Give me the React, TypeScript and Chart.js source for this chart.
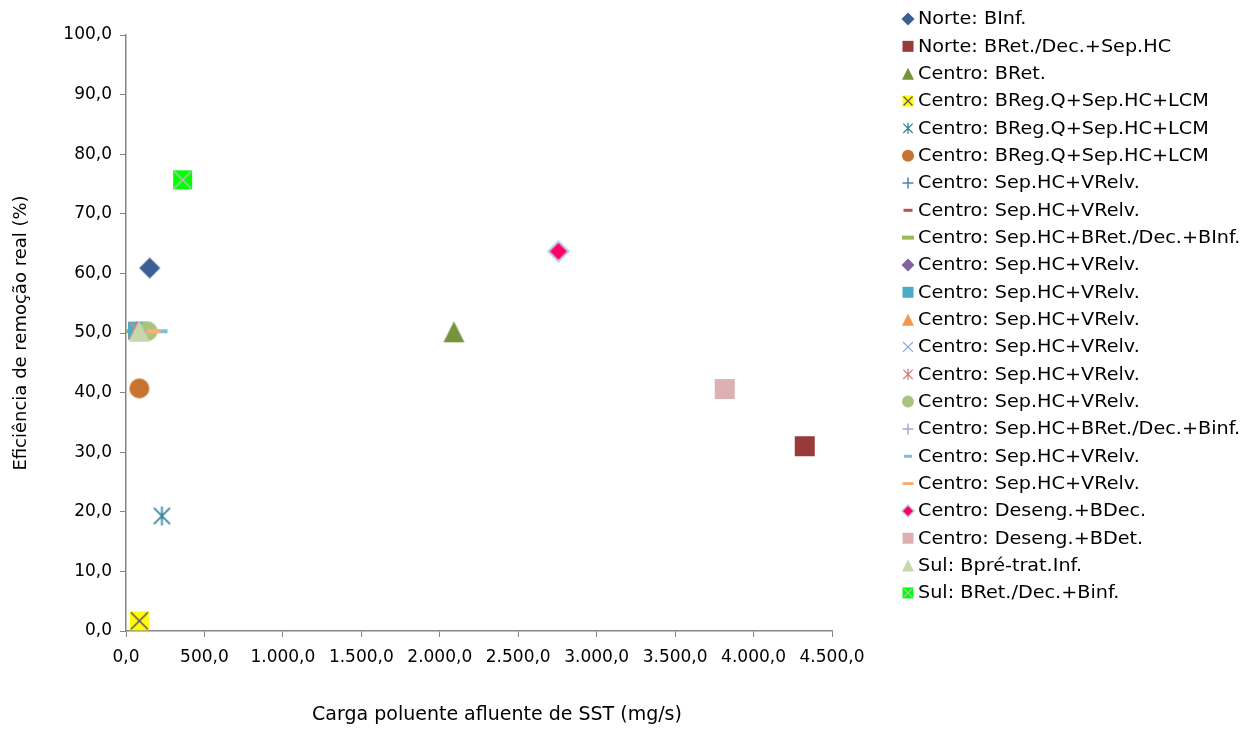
import React, { useEffect, useRef } from 'react';
import { Chart, registerables } from 'chart.js';

Chart.register(...registerables);

// ---------- data ----------
const seriesNames: string[] = [
  'Norte: BInf.',
  'Norte: BRet./Dec.+Sep.HC',
  'Centro: BRet.',
  'Centro: BReg.Q+Sep.HC+LCM',
  'Centro: BReg.Q+Sep.HC+LCM',
  'Centro: BReg.Q+Sep.HC+LCM',
  'Centro: Sep.HC+VRelv.',
  'Centro: Sep.HC+VRelv.',
  'Centro: Sep.HC+BRet./Dec.+BInf.',
  'Centro: Sep.HC+VRelv.',
  'Centro: Sep.HC+VRelv.',
  'Centro: Sep.HC+VRelv.',
  'Centro: Sep.HC+VRelv.',
  'Centro: Sep.HC+VRelv.',
  'Centro: Sep.HC+VRelv.',
  'Centro: Sep.HC+BRet./Dec.+Binf.',
  'Centro: Sep.HC+VRelv.',
  'Centro: Sep.HC+VRelv.',
  'Centro: Deseng.+BDec.',
  'Centro: Deseng.+BDet.',
  'Sul: Bpré-trat.Inf.',
  'Sul: BRet./Dec.+Binf.',
];

// Carga poluente afluente de SST (mg/s)
const xValues: number[] = [
  151, 4326, 2090, 85, 229, 85, 80, 80, 30, 70, 70, 75,
  70, 65, 137, 90, 220, 175, 2756, 3816, 84, 361,
];

// Eficiência de remoção real (%)
const yValues: number[] = [
  60.9, 31.0, 50.2, 1.7, 19.3, 40.7, 50.4, 50.4, 50.3, 50.4, 50.4, 50.4,
  50.5, 50.5, 50.3, 50.4, 50.3, 50.3, 63.7, 40.6, 50.3, 75.7,
];

const xMin = 0;
const xMax = 4500;
const xStep = 500;
const yMin = 0;
const yMax = 100;
const yStep = 10;

const xTitle = 'Carga poluente afluente de SST (mg/s)';
const yTitle = 'Eficiência de remoção real (%)';

// ---------- styles ----------
const markerTypes: string[] = [
  'diamond', 'square', 'triangle', 'xbox', 'asterisk', 'circle',
  'plus', 'dash', 'dash', 'diamond', 'square', 'triangle',
  'x', 'asterisk', 'circle', 'plus', 'dash', 'dash',
  'diamond', 'square', 'triangle', 'xbox',
];

const fillColors: string[] = [
  '#3B6096', '#973A38', '#77933C', '#FFFF00', '#31859C', '#C77430',
  '#4F81BD', '#C0504D', '#9BBB59', '#8064A2', '#4BACC6', '#F79646',
  '#8EA9DB', '#D67F7D', '#A9C47F', '#B3A2C7', '#7EC1D6', '#F9AE77',
  '#FF0066', '#DDB1B1', '#C6D8AC', '#00FF00',
];

const lineColors: (string | null)[] = [
  null, null, null, '#604A7B', null, null,
  null, null, null, null, null, null,
  null, null, null, null, null, null,
  '#B9CDE5', null, null, '#BFBFBF',
];

const chartSizes: number[] = [
  21, 20, 21, 19, 19, 20,
  14, 14, 14, 18, 18, 18,
  16, 17, 20, 14, 14, 14,
  20, 20, 21, 19,
];

const legendSizes: number[] = [
  13, 11, 12, 11, 11, 12,
  11, 9, 12, 13, 11, 12,
  11, 11, 12, 11, 8, 11,
  12, 11, 12, 11,
];

const FONT = '"DejaVu Sans", "Liberation Sans", Arial, sans-serif';
const TICK_SIZE = 17;
const LEGEND_SIZE = 17;
const LEGEND_STRETCH = 1.13;
const X_TITLE_SIZE = 19;
const axisColor = '#868686';

function drawMarker(
  ctx: CanvasRenderingContext2D,
  type: string,
  cx: number,
  cy: number,
  s: number,
  fill: string,
  line: string | null,
) {
  const h = s / 2;
  ctx.save();
  ctx.fillStyle = fill;
  ctx.strokeStyle = fill;
  ctx.lineCap = 'butt';
  switch (type) {
    case 'diamond': {
      ctx.beginPath();
      ctx.moveTo(cx, cy - h);
      ctx.lineTo(cx + h, cy);
      ctx.lineTo(cx, cy + h);
      ctx.lineTo(cx - h, cy);
      ctx.closePath();
      ctx.fill();
      if (line) {
        ctx.strokeStyle = line;
        ctx.lineWidth = Math.max(1.5, s / 9);
        ctx.stroke();
      }
      break;
    }
    case 'square': {
      ctx.fillRect(cx - h, cy - h, s, s);
      break;
    }
    case 'triangle': {
      ctx.beginPath();
      ctx.moveTo(cx, cy - h);
      ctx.lineTo(cx + h, cy + h);
      ctx.lineTo(cx - h, cy + h);
      ctx.closePath();
      ctx.fill();
      break;
    }
    case 'xbox': {
      ctx.fillRect(cx - h, cy - h, s, s);
      ctx.strokeStyle = line || '#000';
      ctx.lineWidth = Math.max(1.2, s / 12);
      const k = h - 1;
      ctx.beginPath();
      ctx.moveTo(cx - k, cy - k);
      ctx.lineTo(cx + k, cy + k);
      ctx.moveTo(cx + k, cy - k);
      ctx.lineTo(cx - k, cy + k);
      ctx.stroke();
      break;
    }
    case 'asterisk': {
      ctx.lineWidth = Math.max(1.3, s / 11);
      const k = h * 0.85;
      ctx.beginPath();
      ctx.moveTo(cx - k, cy - k);
      ctx.lineTo(cx + k, cy + k);
      ctx.moveTo(cx + k, cy - k);
      ctx.lineTo(cx - k, cy + k);
      ctx.moveTo(cx, cy - h);
      ctx.lineTo(cx, cy + h);
      ctx.stroke();
      break;
    }
    case 'x': {
      ctx.lineWidth = Math.max(1.3, s / 11);
      const k = h * 0.9;
      ctx.beginPath();
      ctx.moveTo(cx - k, cy - k);
      ctx.lineTo(cx + k, cy + k);
      ctx.moveTo(cx + k, cy - k);
      ctx.lineTo(cx - k, cy + k);
      ctx.stroke();
      break;
    }
    case 'circle': {
      ctx.beginPath();
      ctx.arc(cx, cy, h, 0, Math.PI * 2);
      ctx.fill();
      break;
    }
    case 'plus': {
      ctx.lineWidth = Math.max(1.5, s / 8);
      ctx.beginPath();
      ctx.moveTo(cx - h, cy);
      ctx.lineTo(cx + h, cy);
      ctx.moveTo(cx, cy - h);
      ctx.lineTo(cx, cy + h);
      ctx.stroke();
      break;
    }
    case 'dash': {
      const t = Math.max(3, Math.round(s * 0.3));
      ctx.fillRect(cx - h, cy - t / 2, s, t);
      break;
    }
    default:
      break;
  }
  ctx.restore();
}

function makeMarkerImage(type: string, s: number, fill: string, line: string | null) {
  const c = document.createElement('canvas');
  const dim = Math.ceil(s + 6);
  c.width = dim;
  c.height = dim;
  const ctx = c.getContext('2d') as CanvasRenderingContext2D;
  drawMarker(ctx, type, dim / 2, dim / 2, s, fill, line);
  return c;
}

function formatPt(v: number): string {
  const [intPart, decPart] = Math.abs(v).toFixed(1).split('.');
  const grouped = intPart.replace(/\B(?=(\d{3})+(?!\d))/g, '.');
  return (v < 0 ? '-' : '') + grouped + ',' + decPart;
}

// legend / title layout
const legendMarkerX = 908;
const legendTextX = 918;
const legendTop = 19;
const legendStep = 27.33;
const xTitleCenterX = 497;
const xTitleCenterY = 715;

const sideLegendPlugin = {
  id: 'sideLegend',
  afterDraw(chart: any) {
    const ctx: CanvasRenderingContext2D = chart.ctx;
    ctx.save();
    seriesNames.forEach((name, i) => {
      const y = legendTop + i * legendStep;
      drawMarker(ctx, markerTypes[i], legendMarkerX, y, legendSizes[i], fillColors[i], lineColors[i]);
      ctx.save();
      ctx.translate(legendTextX, y + 1);
      ctx.scale(LEGEND_STRETCH, 1);
      ctx.font = `${LEGEND_SIZE}px ${FONT}`;
      ctx.fillStyle = '#000000';
      ctx.textBaseline = 'middle';
      ctx.textAlign = 'left';
      ctx.fillText(name, 0, 0);
      ctx.restore();
    });
    // x-axis title (offset to the right as in the original)
    ctx.font = `${X_TITLE_SIZE}px ${FONT}`;
    ctx.fillStyle = '#000000';
    ctx.textBaseline = 'middle';
    ctx.textAlign = 'center';
    ctx.fillText(xTitle, xTitleCenterX, xTitleCenterY);
    ctx.restore();
  },
};

export default function App() {
  const canvasRef = useRef<HTMLCanvasElement | null>(null);

  useEffect(() => {
    const canvas = canvasRef.current;
    if (!canvas) return;

    const datasets = seriesNames.map((name, i) => ({
      label: name,
      data: [{ x: xValues[i], y: yValues[i] }],
      pointStyle: makeMarkerImage(markerTypes[i], chartSizes[i], fillColors[i], lineColors[i]) as any,
      backgroundColor: fillColors[i],
      borderColor: fillColors[i],
      showLine: false,
      order: 100 - i,
    }));

    const chart = new Chart(canvas, {
      type: 'scatter',
      data: { datasets },
      plugins: [sideLegendPlugin],
      options: {
        animation: false,
        responsive: false,
        maintainAspectRatio: false,
        devicePixelRatio: 1,
        layout: { padding: { top: 35, right: 421, bottom: 0, left: 0 } },
        plugins: {
          legend: { display: false },
          tooltip: { enabled: false },
        },
        scales: {
          x: {
            type: 'linear',
            min: xMin,
            max: xMax,
            afterFit: (scale: any) => {
              scale.height = 729 - 631;
            },
            ticks: {
              stepSize: xStep,
              color: '#000000',
              font: { family: FONT, size: TICK_SIZE },
              padding: 10,
              maxRotation: 0,
              autoSkip: false,
              callback: (v: any) => formatPt(Number(v)),
            },
            grid: {
              display: true,
              drawOnChartArea: false,
              drawTicks: true,
              tickLength: 6,
              color: axisColor,
            },
            border: { display: true, color: axisColor, width: 1.5 },
            title: { display: false, text: xTitle },
          },
          y: {
            type: 'linear',
            min: yMin,
            max: yMax,
            afterFit: (scale: any) => {
              scale.width = 126;
            },
            ticks: {
              stepSize: yStep,
              color: '#000000',
              font: { family: FONT, size: TICK_SIZE },
              padding: 8,
              autoSkip: false,
              callback: (v: any) => formatPt(Number(v)),
            },
            grid: {
              display: true,
              drawOnChartArea: false,
              drawTicks: true,
              tickLength: 6,
              color: axisColor,
            },
            border: { display: true, color: axisColor, width: 1.5 },
            title: {
              display: true,
              text: yTitle,
              color: '#000000',
              font: { family: FONT, size: 18 },
              padding: { top: 11, bottom: 0 },
            },
          },
        },
      },
    });

    return () => {
      chart.destroy();
    };
  }, []);

  return (
    <div style={{ position: 'absolute', left: 0, top: 0, width: 1253, height: 729, background: '#ffffff' }}>
      <canvas ref={canvasRef} width={1253} height={729} style={{ width: 1253, height: 729, display: 'block' }} />
    </div>
  );
}
